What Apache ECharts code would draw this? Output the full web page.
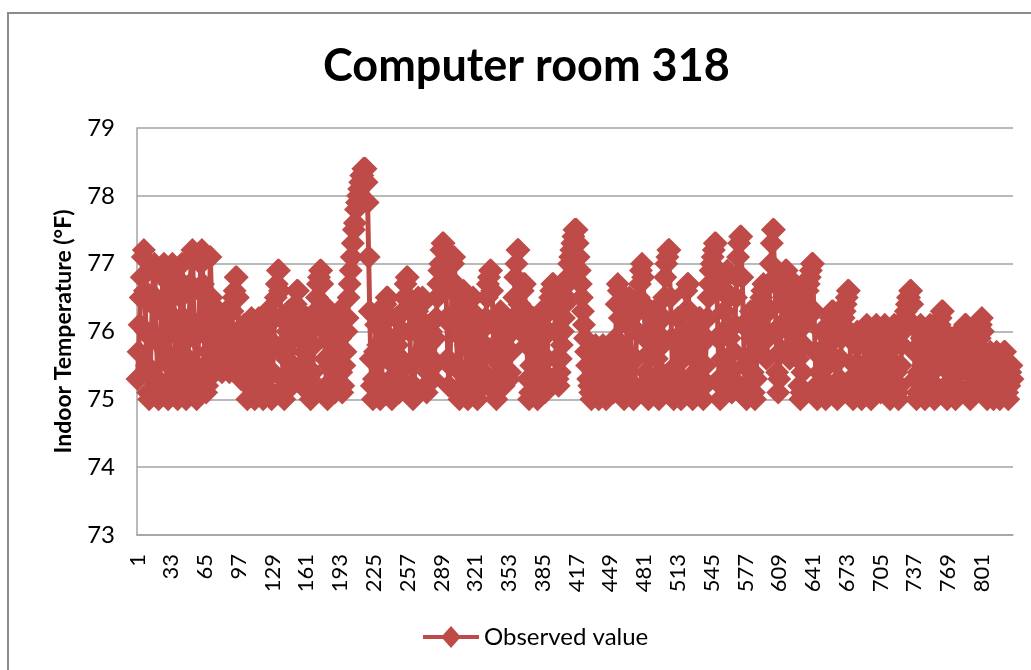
<!DOCTYPE html>
<html>
<head>
<meta charset="utf-8">
<script src="https://cdn.jsdelivr.net/npm/echarts@6/dist/echarts.min.js"></script>
<style>
  html, body { margin: 0; padding: 0; background: #ffffff; }
  #chart { width: 1031px; height: 670px; }
</style>
</head>
<body>
<div id="chart"></div>
<script>
// Computer room 318 – indoor temperature log, one reading per sample
const chartTitle = 'Computer room 318';
const yAxisName = 'Indoor Temperature (°F)';
const seriesName = 'Observed value';
const yMin = 73;
const yMax = 79;
const yStep = 1;
const labelEvery = 32;

// Observed indoor temperature (°F), samples 1..830
const observed = [
  // 1-70
  75.3, 75.7, 76.1, 76.5, 76.8, 77.1, 77.2,
  76.6, 76.0, 75.5, 75.1, 75.0, 75.4, 75.9, 76.4, 76.9,
  77.0, 76.5, 75.9, 75.3, 75.0, 75.2, 75.8, 76.3, 76.8,
  77.0, 76.4, 75.7, 75.2, 75.0, 75.5, 76.0, 76.6, 77.0,
  76.8, 76.2, 75.6, 75.1, 75.0, 75.3, 75.9, 76.5, 77.0,
  76.7, 76.0, 75.4, 75.0, 75.1, 75.6, 76.2, 76.7, 77.1,
  77.2, 76.6, 75.9, 75.3, 75.0, 75.4, 76.0, 76.6, 77.0,
  77.2, 76.7, 76.1, 75.5, 75.1, 75.2, 75.7, 76.3, 77.1,
  // 71-91
  76.5, 75.9, 75.5, 75.4, 75.6, 75.9, 76.2, 76.3, 76.0, 75.6, 75.4,
  75.5, 75.8, 76.1, 76.3, 76.0, 75.7, 75.4, 75.5, 75.9, 76.3,
  // 92-104
  76.5, 76.6, 76.8, 76.8, 76.5, 76.0, 75.6, 75.3, 75.4, 75.8, 76.1, 75.7, 75.3,
  // 105-127
  75.0, 75.2, 75.6, 76.0, 76.2, 75.8, 75.3, 75.0, 75.1, 75.5, 75.9, 76.2,
  76.0, 75.5, 75.1, 75.0, 75.3, 75.7, 76.1, 76.3, 75.9, 75.4, 75.1,
  // 128-146
  75.0, 75.4, 75.8, 76.2, 76.5, 76.7, 76.9, 76.9, 76.6, 76.2,
  75.7, 75.3, 75.0, 75.2, 75.6, 76.0, 76.3, 75.9, 75.4,
  // 147-160
  75.2, 75.5, 75.9, 76.2, 76.4, 76.6, 76.6, 76.3, 75.9, 75.5, 75.2, 75.3, 75.7, 76.0,
  // 161-172
  76.2, 76.2, 75.8, 75.3, 75.0, 75.1, 75.4, 75.8, 76.1, 76.3, 76.5, 76.7,
  // 173-186
  76.8, 76.9, 76.9, 76.7, 76.4, 76.0, 75.6, 75.2, 75.0, 75.1, 75.5, 75.9, 76.2, 75.8,
  // 187-196
  75.4, 75.1, 75.3, 75.7, 76.0, 76.3, 75.9, 75.4, 75.1, 75.2,
  // 197-217
  75.5, 75.7, 76.0, 76.2, 76.5, 76.7, 76.9, 77.1, 77.3, 77.5, 77.6,
  77.8, 77.9, 78.0, 78.1, 78.2, 78.3, 78.3, 78.4, 78.4, 78.4,
  // 218-222
  78.2, 77.9, 77.1, 76.3, 75.6,
  // 223-250
  75.2, 75.0, 75.3, 75.7, 76.1, 76.2, 75.8, 75.3, 75.0, 75.2, 75.6, 76.0, 76.3, 76.4,
  76.5, 76.5, 76.2, 75.8, 75.3, 75.0, 75.1, 75.5, 75.9, 76.2, 75.8, 75.4, 75.1, 75.3,
  // 251-269
  75.6, 76.0, 76.3, 76.5, 76.7, 76.8, 76.8, 76.5, 76.0, 75.5,
  75.1, 75.0, 75.2, 75.6, 76.0, 76.3, 76.5, 76.2, 75.7,
  // 270-290
  76.4, 76.5, 76.1, 75.6, 75.2, 75.1, 75.4, 75.8, 76.1, 76.0, 75.6,
  75.3, 75.5, 75.9, 76.2, 76.5, 76.7, 76.9, 77.0, 77.2, 77.3,
  // 291-310
  77.3, 77.2, 76.8, 76.2, 75.6, 75.2, 75.5, 76.1, 76.6, 77.0,
  77.1, 76.7, 76.1, 75.5, 75.1, 75.0, 75.4, 75.9, 76.4, 76.6,
  // 311-335
  76.3, 75.8, 75.3, 75.0, 75.1, 75.5, 75.9, 76.3, 76.5, 76.1, 75.6, 75.2, 75.0,
  75.3, 75.7, 76.0, 75.6, 75.2, 75.4, 75.8, 76.2, 76.5, 76.7, 76.8, 76.9,
  // 336-360
  76.9, 76.6, 76.1, 75.6, 75.1, 75.0, 75.3, 75.8, 76.2, 76.3, 75.9, 75.5, 75.2,
  75.4, 75.7, 76.0, 75.7, 75.3, 75.4, 75.7, 76.0, 76.2, 76.5, 76.8, 77.0,
  // 361-372
  77.2, 77.2, 76.4, 76.0, 76.3, 76.6, 76.7, 76.7, 76.3, 75.8, 75.3, 75.0,
  // 373-395
  75.1, 75.5, 75.9, 76.2, 76.0, 75.5, 75.1, 75.0, 75.3, 75.7, 76.1, 76.3,
  75.9, 75.4, 75.1, 75.2, 75.6, 76.0, 76.3, 76.5, 76.6, 76.7, 76.7,
  // 396-416
  76.4, 76.0, 75.6, 75.3, 75.2, 75.4, 75.6, 75.8, 76.0, 76.2, 76.4,
  76.5, 76.7, 76.8, 77.0, 77.1, 77.2, 77.3, 77.4, 77.5, 77.5,
  // 417-431
  77.5, 77.3, 77.1, 76.9, 76.7, 76.5, 76.3, 76.1, 75.9, 75.7, 75.5, 75.3, 75.2, 75.1, 75.0,
  // 432-454
  75.2, 75.4, 75.7, 75.8, 75.5, 75.2, 75.0, 75.1, 75.4, 75.7, 75.8, 75.6,
  75.3, 75.0, 75.1, 75.3, 75.6, 75.8, 75.5, 75.2, 75.1, 75.4, 75.9,
  // 455-479
  76.4, 76.7, 76.6, 76.2, 75.8, 75.4, 75.1, 75.0, 75.3, 75.7, 76.1, 76.4, 76.5,
  76.1, 75.6, 75.2, 75.0, 75.2, 75.6, 76.0, 76.3, 76.5, 76.7, 76.9, 77.0,
  // 480-504
  76.8, 76.4, 75.9, 75.4, 75.1, 75.0, 75.3, 75.7, 76.0, 76.2, 76.3, 76.3, 76.0,
  75.6, 75.2, 75.0, 75.1, 75.4, 75.8, 76.2, 76.5, 76.8, 77.0, 77.1, 77.2,
  // 505-522
  77.2, 76.5, 75.9, 75.3, 75.0, 75.1, 75.5, 75.9, 76.2,
  75.8, 75.3, 75.0, 75.2, 75.6, 76.0, 76.3, 76.6, 76.7,
  // 523-534
  76.7, 76.3, 75.8, 75.3, 75.0, 75.1, 75.4, 75.7, 75.9, 76.1, 76.2, 76.2,
  // 535-548
  75.8, 75.3, 75.0, 75.2, 75.5, 75.9, 76.2, 76.5, 76.7, 76.9, 77.0, 77.1, 77.2, 77.3,
  // 549-560
  77.3, 76.6, 75.9, 75.3, 75.0, 75.2, 75.6, 76.0, 76.3, 76.6, 76.8, 76.9,
  // 561-572
  76.5, 75.9, 75.4, 75.1, 75.3, 75.7, 76.1, 76.5, 76.8, 77.1, 77.3, 77.4,
  // 573-594
  77.4, 76.8, 76.1, 75.5, 75.1, 75.0, 75.2, 75.6, 76.0, 76.3, 75.9,
  75.4, 75.1, 75.0, 75.3, 75.7, 76.0, 76.2, 76.4, 76.5, 76.6, 76.7,
  // 595-603
  76.4, 75.9, 75.6, 75.9, 76.3, 76.7, 77.0, 77.3, 77.5,
  // 604-615
  77.5, 76.8, 76.0, 75.4, 75.1, 75.3, 75.7, 76.1, 76.4, 76.6, 76.8, 76.9,
  // 616-624
  76.9, 76.5, 76.0, 75.6, 75.8, 76.2, 76.5, 76.7, 76.7,
  // 625-640
  76.4, 76.0, 75.6, 75.2, 75.0, 75.1, 75.4, 75.8, 76.1, 76.3, 76.4, 76.6, 76.7, 76.8, 76.9, 77.0,
  // 641-660
  77.0, 76.3, 75.7, 75.2, 75.0, 75.1, 75.4, 75.7, 76.0, 75.7,
  75.3, 75.1, 75.0, 75.2, 75.5, 75.8, 76.0, 76.2, 76.3, 76.3,
  // 661-674
  76.0, 75.6, 75.2, 75.0, 75.1, 75.3, 75.6, 75.9, 76.1, 76.2, 76.3, 76.4, 76.5, 76.6,
  // 675-709
  76.6, 75.9, 75.3, 75.1, 75.0, 75.2, 75.5, 75.8, 76.0, 75.8, 75.4, 75.1,
  75.0, 75.2, 75.5, 75.8, 76.0, 76.1, 75.8, 75.4, 75.2, 75.0, 75.1, 75.4,
  75.7, 75.9, 76.1, 75.9, 75.6, 75.3, 75.1, 75.2, 75.5, 75.8, 76.1,
  // 710-735
  75.9, 75.6, 75.3, 75.1, 75.0, 75.2, 75.5, 75.8, 76.1, 75.8, 75.4, 75.1, 75.0,
  75.2, 75.5, 75.8, 76.0, 76.1, 76.2, 76.3, 76.4, 76.5, 76.5, 76.6, 76.6, 76.4,
  // 736-764
  76.1, 75.7, 75.3, 75.0, 75.1, 75.4, 75.8, 76.1, 75.9, 75.5, 75.2, 75.0, 75.1, 75.4, 75.7,
  76.0, 76.1, 75.8, 75.4, 75.1, 75.0, 75.2, 75.5, 75.8, 76.0, 76.1, 76.2, 76.3, 76.3,
  // 765-785
  76.0, 75.6, 75.2, 75.0, 75.1, 75.4, 75.7, 75.9, 75.6, 75.3, 75.1,
  75.0, 75.2, 75.5, 75.8, 76.0, 75.8, 75.6, 75.7, 75.9, 76.1,
  // 786-801
  76.1, 75.8, 75.4, 75.1, 75.0, 75.2, 75.5, 75.8, 76.0, 75.7, 75.4, 75.3, 75.6, 75.9, 76.1, 76.2,
  // 802-830
  76.0, 75.7, 75.4, 75.1, 75.0, 75.2, 75.5, 75.7, 75.4, 75.1, 75.0, 75.3, 75.6, 75.7, 75.5,
  75.2, 75.0, 75.1, 75.4, 75.6, 75.7, 75.7, 75.4, 75.1, 75.0, 75.2, 75.4, 75.5, 75.3
];

// Sample numbers used as category labels
const categories = observed.map((_, i) => String(i + 1));

const red = '#BE4B48';
const gridGray = '#a3a3a3';
const font = 'Lato';

// Diamond marker drawn edge to edge within its symbolSize box
const diamondPath = 'path://M0,-1 L1,0 L0,1 L-1,0 Z';

const chart = echarts.init(document.getElementById('chart'), null, { renderer: 'canvas' });
chart.setOption({
  animation: false,
  backgroundColor: '#ffffff',
  textStyle: { fontFamily: font },
  graphic: [{
    type: 'rect',
    silent: true,
    z: -10,
    shape: { x: 8, y: 13, width: 1200, height: 800 },
    style: { fill: 'none', stroke: '#8c8c8c', lineWidth: 2 }
  }],
  title: {
    text: chartTitle,
    left: 318,
    top: 39,
    textStyle: { fontFamily: font, fontWeight: 'bold', fontSize: 45, color: '#000000' }
  },
  grid: { left: 137, right: 18, top: 128, bottom: 135 },
  legend: {
    data: [{
      name: seriesName,
      icon: 'path://M0,9 L20,9 L28,0 L36,9 L56,9 L56,13 L36,13 L28,22 L20,13 L0,13 Z',
      itemStyle: { color: red }
    }],
    left: 418,
    top: 620,
    itemWidth: 56,
    itemHeight: 22,
    textStyle: { fontFamily: font, fontSize: 24, color: '#000000' }
  },
  xAxis: {
    type: 'category',
    data: categories,
    boundaryGap: true,
    axisLine: { show: true, lineStyle: { color: gridGray, width: 1.5 } },
    axisTick: { show: false },
    splitLine: { show: false },
    axisLabel: {
      interval: labelEvery - 1,
      rotate: 90,
      margin: 19,
      fontFamily: font,
      fontSize: 22,
      color: '#000000'
    }
  },
  yAxis: {
    type: 'value',
    min: yMin,
    max: yMax,
    interval: yStep,
    name: yAxisName,
    nameLocation: 'middle',
    nameGap: 62,
    nameTextStyle: { fontFamily: font, fontWeight: 'bold', fontSize: 23, color: '#000000' },
    axisLine: { show: true, lineStyle: { color: gridGray, width: 1.5 } },
    axisTick: { show: false },
    splitLine: { show: true, lineStyle: { color: gridGray, width: 1.5 } },
    axisLabel: { margin: 22, fontFamily: font, fontSize: 24, color: '#000000' }
  },
  series: [{
    name: seriesName,
    type: 'line',
    data: observed,
    symbol: diamondPath,
    symbolSize: 24,
    symbolKeepAspect: false,
    showAllSymbol: true,
    itemStyle: { color: red },
    lineStyle: { color: red, width: 5 },
    emphasis: { disabled: true }
  }]
});
</script>
</body>
</html>
